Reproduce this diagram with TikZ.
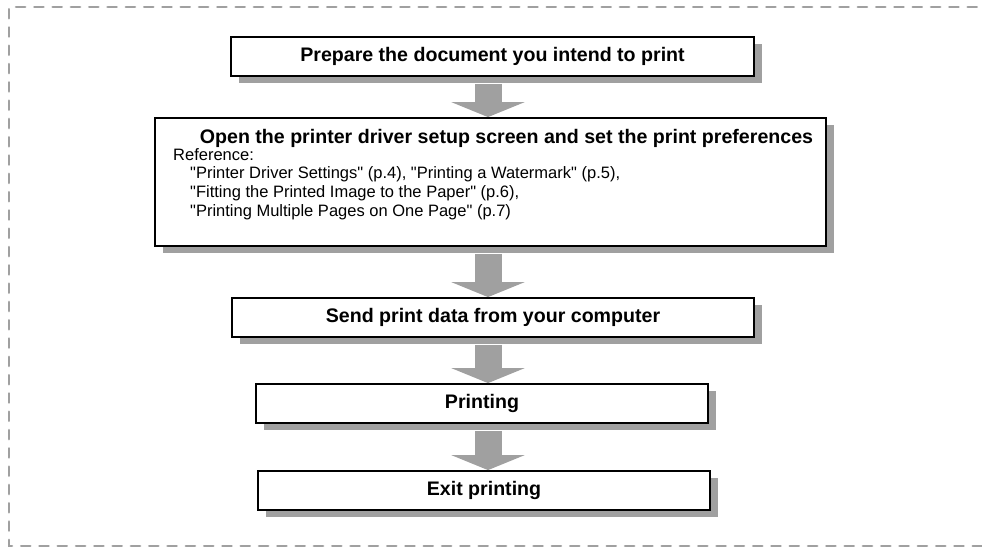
\documentclass[tikz,border=0pt]{standalone}
\usepackage{fontspec}
\setmainfont{Liberation Sans}[Ligatures=TeXOff]
\usetikzlibrary{positioning,calc,arrows.meta,shadows}

\definecolor{shadegray}{HTML}{A0A0A0}

\tikzset{
  stepbox/.style={draw=black, line width=1.8pt, fill=white, rectangle, inner sep=0pt,
    font=\fontsize{19.6}{22}\selectfont\bfseries,
    drop shadow={shadow xshift=8pt, shadow yshift=-7pt, fill=shadegray, opacity=1}},
  flowarrow/.style={draw=shadegray, line width=27pt, -{Triangle[width=73pt,length=15pt]}},
  framedash/.style={draw=shadegray, line width=2.8pt, dash pattern=on 9pt off 9.3pt, line cap=round},
  reftext/.style={font=\fontsize{16.5}{18.8}\selectfont, align=left, inner sep=0pt}
}

\begin{document}
\begin{tikzpicture}[x=1pt, y=-1pt]
    \useasboundingbox (0,0) rectangle (982,548);
    \draw[framedash] (995,7) -- (9,7) -- (9,546) -- (995,546);

    \node[stepbox, minimum width=523, minimum height=39] (prepare) at (492.5,56.5) {Prepare the document you intend to print};
    \node[stepbox, minimum width=671, minimum height=128] (driver) at (490.5,182) {};
    \node[font=\fontsize{19.6}{22}\selectfont\bfseries, anchor=base, inner sep=0pt] (drivertitle) at (506.5,144)
        {Open the printer driver setup screen and set the print preferences};
    \node[reftext, anchor=north west] (driverref) at (173,148) {Reference:\\
        \hspace*{17pt}"Printer Driver Settings" (p.4), "Printing a Watermark" (p.5),\\
        \hspace*{17pt}"Fitting the Printed Image to the Paper" (p.6),\\
        \hspace*{17pt}"Printing Multiple Pages on One Page" (p.7)};
    \node[stepbox, minimum width=522, minimum height=39] (send) at (493,317.5) {Send print data from your computer};
    \node[stepbox, minimum width=452, minimum height=39] (printing) at (482,403.5) {Printing};
    \node[stepbox, minimum width=452, minimum height=39] (exit) at (484,490.5) {Exit printing};

    % block arrows run down one axis
    \coordinate (axis) at (488,0);
    \draw[flowarrow] ($(prepare.south -| axis)+(0,7)$) -- (driver.north -| axis);
    \draw[flowarrow] ($(driver.south -| axis)+(0,7)$) -- (send.north -| axis);
    \draw[flowarrow] ($(send.south -| axis)+(0,7)$) -- (printing.north -| axis);
    \draw[flowarrow] ($(printing.south -| axis)+(0,7)$) -- (exit.north -| axis);
\end{tikzpicture}
\end{document}
